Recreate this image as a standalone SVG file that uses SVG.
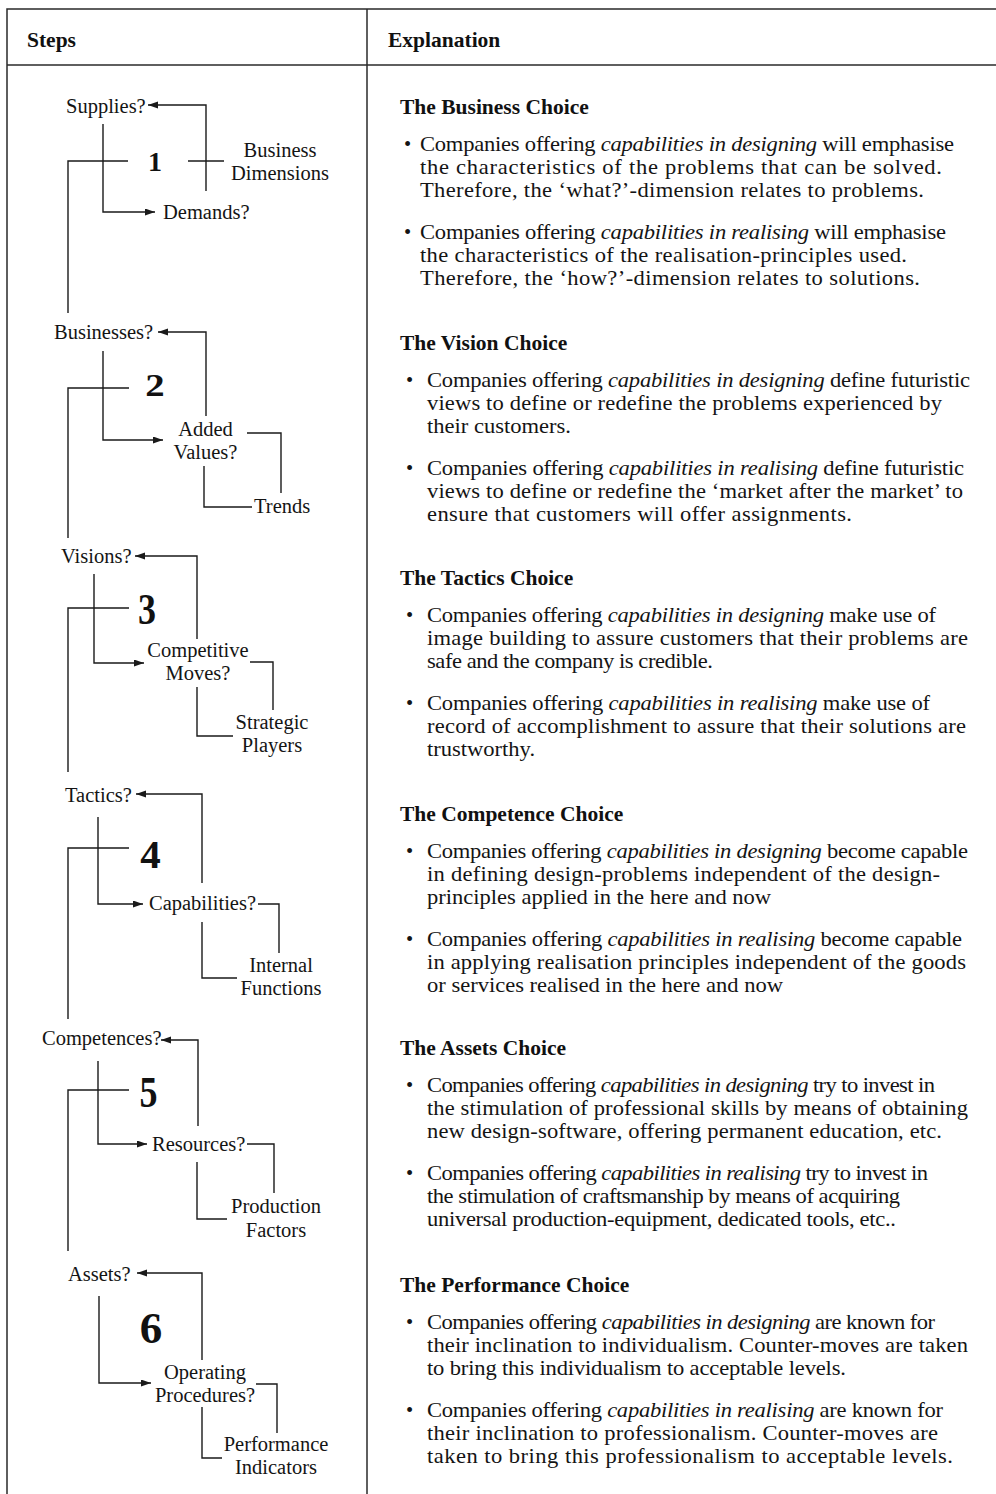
<svg xmlns="http://www.w3.org/2000/svg" width="996" height="1494" viewBox="0 0 996 1494">
  <style>
    .tbl { stroke: #2a2a2a; stroke-width: 1.5; fill: none; }
    .ln { stroke: #1a1a1a; stroke-width: 1.4; fill: none; }
    .lbl { font-family: "Liberation Serif", "Times New Roman", serif; font-size: 20.5px; fill: #141414; }
    .mid { text-anchor: middle; }
    .num { font-family: "Liberation Serif", "Times New Roman", serif; font-weight: bold; fill: #111; text-anchor: middle; }
    .hd { font-family: "Liberation Serif", "Times New Roman", serif; font-size: 21.5px; font-weight: bold; fill: #111; }
    .bl { font-family: "Liberation Serif", "Times New Roman", serif; font-size: 20.5px; fill: #141414; }
    .tx { font-family: "Liberation Serif", "Times New Roman", serif; font-size: 20.5px; fill: #141414; }
    .it { font-style: italic; }
  </style>
  <defs>
    <marker id="arrow" markerUnits="userSpaceOnUse" markerWidth="11" markerHeight="8" refX="10" refY="3.5" orient="auto">
      <path d="M0,0 L10,3.5 L0,7 z" fill="#1a1a1a"/>
    </marker>
  </defs>

  <rect width="996" height="1494" fill="#ffffff"/>

  <!-- table frame -->
  <g id="table">
    <path class="tbl" d="M7,1494 V9 H996"/>
    <path class="tbl" d="M7,65 H996"/>
    <path class="tbl" d="M367,9 V1494"/>
    <text class="hd" x="27" y="47">Steps</text>
    <text class="hd" x="388" y="47">Explanation</text>
  </g>

  <!-- connectors of the step diagram -->
  <g id="connectors">
    <!-- step 1 -->
    <path class="ln" d="M206,191 V105 H148" marker-end="url(#arrow)"/>
    <path class="ln" d="M103,124 V212 H155" marker-end="url(#arrow)"/>
    <path class="ln" d="M128,161 H68 V313"/>
    <path class="ln" d="M188,161 H224"/>
    <!-- step 2 -->
    <path class="ln" d="M206,416 V332 H158" marker-end="url(#arrow)"/>
    <path class="ln" d="M103,351 V440 H163" marker-end="url(#arrow)"/>
    <path class="ln" d="M129,388 H68 V538"/>
    <path class="ln" d="M247,433 H281 V493"/>
    <path class="ln" d="M204,466 V507 H252"/>
    <!-- step 3 -->
    <path class="ln" d="M197,639 V556 H135" marker-end="url(#arrow)"/>
    <path class="ln" d="M94,574 V663 H144" marker-end="url(#arrow)"/>
    <path class="ln" d="M129,608 H68 V772"/>
    <path class="ln" d="M250,662 H273 V710"/>
    <path class="ln" d="M197,687 V736 H233"/>
    <!-- step 4 -->
    <path class="ln" d="M202,883 V794 H136" marker-end="url(#arrow)"/>
    <path class="ln" d="M98,817 V904 H143" marker-end="url(#arrow)"/>
    <path class="ln" d="M129,848 H68 V1019"/>
    <path class="ln" d="M258,904 H279 V953"/>
    <path class="ln" d="M202,922 V978 H237"/>
    <!-- step 5 -->
    <path class="ln" d="M198,1126 V1040 H161" marker-end="url(#arrow)"/>
    <path class="ln" d="M98,1061 V1144 H147" marker-end="url(#arrow)"/>
    <path class="ln" d="M129,1090 H68 V1251"/>
    <path class="ln" d="M247,1144 H274 V1193"/>
    <path class="ln" d="M197,1162 V1219 H227"/>
    <!-- step 6 -->
    <path class="ln" d="M202,1360 V1273 H137" marker-end="url(#arrow)"/>
    <path class="ln" d="M99,1296 V1383 H151" marker-end="url(#arrow)"/>
    <path class="ln" d="M256,1384 H277 V1433"/>
    <path class="ln" d="M202,1407 V1458 H222"/>
  </g>

  <!-- step 1 -->
  <g id="supplies"><text class="lbl" x="66" y="113">Supplies?</text></g>
  <g id="step-1"><text class="num" x="155" y="171" font-size="28">1</text></g>
  <g id="demands"><text class="lbl" x="163" y="219">Demands?</text></g>
  <g id="business-dimensions">
    <text class="lbl mid" x="280" y="157">Business</text>
    <text class="lbl mid" x="280" y="180">Dimensions</text>
  </g>

  <!-- step 2 -->
  <g id="businesses"><text class="lbl" x="54" y="339">Businesses?</text></g>
  <g id="step-2"><text class="num" transform="translate(155,396) scale(1.25,1)" font-size="31">2</text></g>
  <g id="added-values">
    <text class="lbl mid" x="205.5" y="436">Added</text>
    <text class="lbl mid" x="205.5" y="459">Values?</text>
  </g>
  <g id="trends"><text class="lbl" x="254" y="513">Trends</text></g>

  <!-- step 3 -->
  <g id="visions"><text class="lbl" x="61" y="563">Visions?</text></g>
  <g id="step-3"><text class="num" transform="translate(147,624) scale(0.8,1)" font-size="45">3</text></g>
  <g id="competitive-moves">
    <text class="lbl mid" x="198" y="657">Competitive</text>
    <text class="lbl mid" x="198" y="680">Moves?</text>
  </g>
  <g id="strategic-players">
    <text class="lbl mid" x="272" y="729">Strategic</text>
    <text class="lbl mid" x="272" y="752">Players</text>
  </g>

  <!-- step 4 -->
  <g id="tactics"><text class="lbl" x="65" y="802">Tactics?</text></g>
  <g id="step-4"><text class="num" x="150.5" y="868" font-size="41">4</text></g>
  <g id="capabilities"><text class="lbl" x="149" y="910">Capabilities?</text></g>
  <g id="internal-functions">
    <text class="lbl mid" x="281" y="972">Internal</text>
    <text class="lbl mid" x="281" y="995">Functions</text>
  </g>

  <!-- step 5 -->
  <g id="competences"><text class="lbl" x="42" y="1045">Competences?</text></g>
  <g id="step-5"><text class="num" transform="translate(148.5,1107) scale(0.8,1)" font-size="45">5</text></g>
  <g id="resources"><text class="lbl" x="152" y="1151">Resources?</text></g>
  <g id="production-factors">
    <text class="lbl mid" x="276" y="1213">Production</text>
    <text class="lbl mid" x="276" y="1237">Factors</text>
  </g>

  <!-- step 6 -->
  <g id="assets"><text class="lbl" x="68" y="1281">Assets?</text></g>
  <g id="step-6"><text class="num" x="151" y="1343" font-size="45">6</text></g>
  <g id="operating-procedures">
    <text class="lbl mid" x="205" y="1379">Operating</text>
    <text class="lbl mid" x="205" y="1402">Procedures?</text>
  </g>
  <g id="performance-indicators">
    <text class="lbl mid" x="276" y="1451">Performance</text>
    <text class="lbl mid" x="276" y="1474">Indicators</text>
  </g>

  <!-- explanation column: headings and bullet marks -->
  <g id="headings">
    <text class="hd" x="400" y="114">The Business Choice</text>
    <text class="hd" x="400" y="350">The Vision Choice</text>
    <text class="hd" x="400" y="585">The Tactics Choice</text>
    <text class="hd" x="400" y="821">The Competence Choice</text>
    <text class="hd" x="400" y="1055">The Assets Choice</text>
    <text class="hd" x="400" y="1292">The Performance Choice</text>
  </g>
  <g id="bullets">
    <text class="bl" x="404" y="151.3">•</text>
    <text class="bl" x="404" y="239.3">•</text>
    <text class="bl" x="406" y="387.3">•</text>
    <text class="bl" x="406" y="475.3">•</text>
    <text class="bl" x="406" y="622.3">•</text>
    <text class="bl" x="406" y="710.3">•</text>
    <text class="bl" x="406" y="858.3">•</text>
    <text class="bl" x="406" y="946.3">•</text>
    <text class="bl" x="406" y="1092.3">•</text>
    <text class="bl" x="406" y="1180.3">•</text>
    <text class="bl" x="406" y="1329.3">•</text>
    <text class="bl" x="406" y="1417.3">•</text>
  </g>

  <!-- explanation body text, set slightly wide (x positions are divided by 1.1) -->
  <g id="explanations" transform="scale(1.1,1)">
    <g id="business-choice">
      <text class="tx" x="381.82" y="151.3" textLength="485.45" lengthAdjust="spacing">Companies offering <tspan class="it">capabilities in designing</tspan> will emphasise</text>
      <text class="tx" x="381.82" y="174" textLength="474.55" lengthAdjust="spacing">the characteristics of the problems that can be solved.</text>
      <text class="tx" x="381.82" y="196.7" textLength="458.18" lengthAdjust="spacing">Therefore, the ‘what?’-dimension relates to problems.</text>
      <text class="tx" x="381.82" y="239.3" textLength="478.18" lengthAdjust="spacing">Companies offering <tspan class="it">capabilities in realising</tspan> will emphasise</text>
      <text class="tx" x="381.82" y="262" textLength="442.73" lengthAdjust="spacing">the characteristics of the realisation-principles used.</text>
      <text class="tx" x="381.82" y="284.7" textLength="454.55" lengthAdjust="spacing">Therefore, the ‘how?’-dimension relates to solutions.</text>
    </g>

    <g id="vision-choice">
      <text class="tx" x="388.18" y="387.3" textLength="493.64" lengthAdjust="spacing">Companies offering <tspan class="it">capabilities in designing</tspan> define futuristic</text>
      <text class="tx" x="388.18" y="410" textLength="468.18" lengthAdjust="spacing">views to define or redefine the problems experienced by</text>
      <text class="tx" x="388.18" y="432.7">their customers.</text>
      <text class="tx" x="388.18" y="475.3" textLength="488.18" lengthAdjust="spacing">Companies offering <tspan class="it">capabilities in realising</tspan> define futuristic</text>
      <text class="tx" x="388.18" y="498" textLength="487.27" lengthAdjust="spacing">views to define or redefine the ‘market after the market’ to</text>
      <text class="tx" x="388.18" y="520.7" textLength="386.36" lengthAdjust="spacing">ensure that customers will offer assignments.</text>
    </g>

    <g id="tactics-choice">
      <text class="tx" x="388.18" y="622.3" textLength="462.73" lengthAdjust="spacing">Companies offering <tspan class="it">capabilities in designing</tspan> make use of</text>
      <text class="tx" x="388.18" y="645" textLength="491.82" lengthAdjust="spacing">image building to assure customers that their problems are</text>
      <text class="tx" x="388.18" y="667.7" textLength="260" lengthAdjust="spacing">safe and the company is credible.</text>
      <text class="tx" x="388.18" y="710.3" textLength="457.27" lengthAdjust="spacing">Companies offering <tspan class="it">capabilities in realising</tspan> make use of</text>
      <text class="tx" x="388.18" y="733" textLength="490" lengthAdjust="spacing">record of accomplishment to assure that their solutions are</text>
      <text class="tx" x="388.18" y="755.7">trustworthy.</text>
    </g>

    <g id="competence-choice">
      <text class="tx" x="388.18" y="858.3" textLength="491.82" lengthAdjust="spacing">Companies offering <tspan class="it">capabilities in designing</tspan> become capable</text>
      <text class="tx" x="388.18" y="881" textLength="466.36" lengthAdjust="spacing">in defining design-problems independent of the design-</text>
      <text class="tx" x="388.18" y="903.7">principles applied in the here and now</text>
      <text class="tx" x="388.18" y="946.3" textLength="486.36" lengthAdjust="spacing">Companies offering <tspan class="it">capabilities in realising</tspan> become capable</text>
      <text class="tx" x="388.18" y="969" textLength="490" lengthAdjust="spacing">in applying realisation principles independent of the goods</text>
      <text class="tx" x="388.18" y="991.7">or services realised in the here and now</text>
    </g>

    <g id="assets-choice">
      <text class="tx" x="388.18" y="1092.3" textLength="461.82" lengthAdjust="spacing">Companies offering <tspan class="it">capabilities in designing</tspan> try to invest in</text>
      <text class="tx" x="388.18" y="1115" textLength="491.82" lengthAdjust="spacing">the stimulation of professional skills by means of obtaining</text>
      <text class="tx" x="388.18" y="1137.7" textLength="468.18" lengthAdjust="spacing">new design-software, offering permanent education, etc.</text>
      <text class="tx" x="388.18" y="1180.3" textLength="455.45" lengthAdjust="spacing">Companies offering <tspan class="it">capabilities in realising</tspan> try to invest in</text>
      <text class="tx" x="388.18" y="1203" textLength="430" lengthAdjust="spacing">the stimulation of craftsmanship by means of acquiring</text>
      <text class="tx" x="388.18" y="1225.7" textLength="426.36" lengthAdjust="spacing">universal production-equipment, dedicated tools, etc..</text>
    </g>

    <g id="performance-choice">
      <text class="tx" x="388.18" y="1329.3" textLength="461.82" lengthAdjust="spacing">Companies offering <tspan class="it">capabilities in designing</tspan> are known for</text>
      <text class="tx" x="388.18" y="1352" textLength="491.82" lengthAdjust="spacing">their inclination to individualism. Counter-moves are taken</text>
      <text class="tx" x="388.18" y="1374.7" textLength="380.91" lengthAdjust="spacing">to bring this individualism to acceptable levels.</text>
      <text class="tx" x="388.18" y="1417.3" textLength="469.09" lengthAdjust="spacing">Companies offering <tspan class="it">capabilities in realising</tspan> are known for</text>
      <text class="tx" x="388.18" y="1440" textLength="464.55" lengthAdjust="spacing">their inclination to professionalism. Counter-moves are</text>
      <text class="tx" x="388.18" y="1462.7" textLength="478.18" lengthAdjust="spacing">taken to bring this professionalism to acceptable levels.</text>
    </g>
  </g>
</svg>
